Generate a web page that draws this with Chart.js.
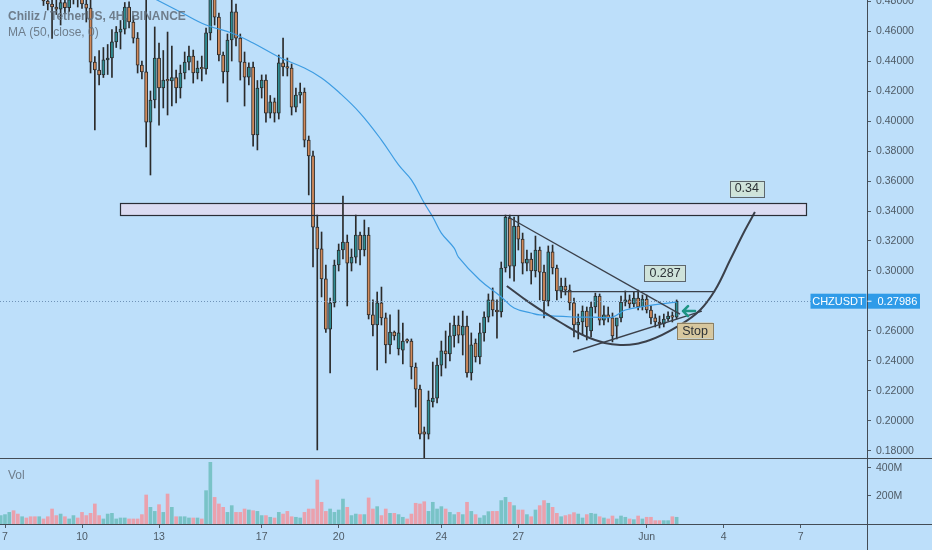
<!DOCTYPE html>
<html>
<head>
<meta charset="utf-8">
<script src="https://cdn.jsdelivr.net/npm/chart.js@4.4.0/dist/chart.umd.min.js"></script>
<style>
html,body{margin:0;padding:0;background:#bddffa;}
#wrap{width:932px;height:550px;}
</style>
</head>
<body>
<div id="wrap"><canvas id="chzChart" width="932" height="550"></canvas></div>
<script>
// 4h candles, index 0 = May 7 00:00 (first one is index -1)
const firstIdx = -1;
const opens = [.492,.498,.503,.507,.501,.496,.499,.494,.490,.487,.489,.480,.478,.476,.4745,.479,.4755,.481,.485,.482,.478,
  .4753,.4393,.434,.4307,.4407,.442,.4527,.4593,.4613,.476,.466,.4553,.4373,.4327,.3993,.414,.442,.422,.4273,.4267,
  .429,.422,.432,.4393,.4433,.432,.4353,.4347,.4587,.488,.4693,.444,.4327,.454,.4727,.4553,.4393,.4293,.436,.3907,
  .422,.4273,.4053,.4127,.4053,.4387,.436,.4353,.4093,.4173,.4193,.3873,.3767,.3293,.3147,.2947,.2613,.2787,.304,.314,
  .3193,.3053,.3093,.324,.314,.324,.2707,.264,.2787,.2687,.2507,.2593,.248,.2473,.254,.2533,.236,.2213,.1927,.1913,
  .2127,.2153,.2373,.2467,.2447,.2567,.264,.2573,.2633,.232,.252,.2427,.2587,.2693,.2807,.274,.2727,.302,.3353,.3033,
  .330,.3213,.3053,.308,.300,.314,.2993,.280,.3127,.302,.2867,.290,.2873,.2787,.264,.266,.2733,.260,.276,.2833,
  .2673,.2707,.2687,.2633,.2687,.2793,.2807,.278,.282,.276,.2813,.274,.2687,.266,.2647,.268,.270,.2693];
const highs = [.503,.507,.512,.510,.504,.503,.501,.497,.493,.493,.492,.486,.483,.481,.485,.484,.486,.489,.489,.486,.481,
  .4807,.443,.447,.449,.451,.461,.463,.467,.479,.4795,.470,.459,.440,.490,.420,.4627,.452,.447,.4593,.450,
  .434,.4373,.446,.450,.4473,.440,.4433,.462,.495,.492,.472,.446,.458,.4807,.478,.458,.446,.4387,.4393,.427,
  .4307,.4307,.417,.4153,.444,.4553,.442,.438,.422,.4253,.422,.390,.380,.3373,.326,.304,.282,.3073,.318,.350,
  .324,.3147,.3373,.326,.334,.329,.2807,.286,.2893,.272,.2707,.260,.274,.2653,.2547,.2547,.2387,.224,.196,.220,
  .2393,.242,.2533,.260,.2653,.270,.270,.2733,.270,.2587,.2547,.2653,.2727,.2847,.2887,.2807,.306,.3373,.3373,.336,
  .3367,.3253,.314,.312,.3233,.316,.304,.3167,.3173,.304,.2953,.2953,.2907,.282,.2713,.2767,.276,.2793,.2853,.2847,
  .2767,.276,.272,.268,.2833,.2867,.284,.286,.2873,.284,.284,.2767,.2713,.270,.2713,.2727,.2727,.2807];
const lows = [.488,.494,.500,.497,.492,.491,.489,.486,.483,.483,.477,.474,.455,.471,.464,.472,.473,.478,.476,.475,.466,
  .432,.394,.424,.429,.431,.429,.449,.448,.458,.462,.452,.432,.428,.3827,.364,.4087,.3973,.4087,.404,.410,
  .412,.4153,.428,.434,.4253,.428,.4267,.4313,.454,.464,.440,.4253,.4127,.440,.450,.4273,.410,.424,.3833,.3807,
  .4153,.3993,.402,.3993,.4013,.430,.430,.404,.406,.412,.3827,.3507,.3027,.1807,.2827,.259,.232,.276,.300,.308,
  .2767,.300,.3053,.304,.310,.268,.2567,.234,.264,.2387,.2447,.254,.244,.238,.252,.228,.2093,.188,.1753,.188,
  .2093,.212,.230,.2353,.240,.2493,.252,.244,.2293,.2273,.2393,.238,.2533,.266,.270,.2553,.2693,.2993,.2953,.2933,
  .314,.298,.300,.2913,.296,.2807,.2687,.2767,.298,.2807,.282,.284,.274,.256,.2547,.2573,.254,.256,.272,.264,
  .264,.266,.2527,.2547,.266,.2767,.2753,.276,.274,.274,.272,.2647,.2627,.262,.2627,.2667,.266,.268];
const closes = [.498,.503,.507,.501,.496,.499,.494,.490,.487,.489,.480,.478,.476,.4745,.479,.4755,.481,.485,.482,.478,.4753,
  .4393,.434,.4307,.4407,.442,.4527,.4593,.4613,.476,.466,.4553,.4373,.4327,.3993,.414,.442,.422,.4273,.4267,.429,
  .422,.432,.4393,.4433,.432,.4353,.4347,.4587,.488,.4693,.444,.4327,.454,.4727,.4553,.4393,.4293,.436,.3907,.422,
  .4273,.4053,.4127,.4053,.4387,.436,.4353,.4093,.4173,.4193,.3873,.3767,.3293,.3147,.2947,.2613,.2787,.304,.314,.3193,
  .3053,.3093,.324,.314,.324,.2707,.264,.2787,.2687,.2507,.2593,.2567,.2587,.2533,.2533,.236,.2213,.1913,.1913,.214,
  .2153,.2373,.2467,.2447,.2567,.264,.2573,.2633,.232,.2507,.2427,.2587,.2693,.2807,.274,.2727,.302,.336,.3033,.330,
  .3213,.3053,.308,.300,.314,.2993,.280,.3127,.302,.2867,.290,.2873,.2787,.264,.266,.2733,.2627,.276,.2833,.2673,
  .2707,.2687,.2567,.2687,.2793,.2807,.278,.282,.276,.2813,.274,.2687,.266,.2647,.268,.270,.2693,.27986];
// volume in millions
const volumes = [60,67,83,95,71,52,43,52,52,52,36,52,107,60,71,52,36,60,43,83,60,
  76,143,60,36,71,76,36,43,43,36,36,36,67,207,119,90,138,83,214,119,
  52,52,52,43,43,43,36,238,440,190,143,119,83,131,83,83,107,100,95,90,
  60,60,48,43,83,71,90,52,48,43,83,107,107,314,155,90,107,83,100,178,
  119,60,71,67,67,186,107,124,60,107,76,76,67,48,36,71,148,143,159,90,
  155,107,124,107,83,67,83,67,155,90,67,43,60,88,90,90,167,190,155,131,
  100,100,67,52,100,131,167,148,119,76,52,60,67,81,71,43,67,76,71,52,
  43,36,57,36,57,48,36,31,57,36,48,48,24,24,24,24,52,48];

// MA (50, close)
const maIdx = [34,36,41,47,53,58,64,70,74,78,83,88,92,95,98,100,102,105,106,111,116,119,123,125,133,137,142,145,150,157];
const maVal = [.483,.480,.4727,.464,.4587,.452,.4427,.4353,.4287,.4193,.4053,.3873,.3707,.3607,.3453,.336,.3253,.3153,
  .3093,.294,.2827,.2753,.272,.2707,.2693,.2693,.2693,.274,.2767,.2793];

const lastPrice = 0.27986;
const dayTicks = [0,18,36,60,78,102,120,150,168,186];
const dayLabels = ['7','10','13','17','20','24','27','Jun','4','7'];
const priceTicks = [0.18,0.20,0.22,0.24,0.26,0.28,0.30,0.32,0.34,0.36,0.38,0.40,0.42,0.44,0.46,0.48];
const volTicks = [200,400];

// drawings on the chart
const zoneSpan = [26.9, 187.2];
const zoneLevels = [0.3373, 0.3453];
const cupIdx = [117.3,122.7,129.7,136.7,143.8,150.8,157.8,162.5,166,169.5,173,175.3];
const cupVal = [.290,.2787,.266,.2553,.2507,.254,.264,.274,.2873,.3073,.3273,.3393];
const fallIdx = [117.6,157.8];
const fallVal = [.336,.2713];
const riseIdx = [132.8,162.9];
const riseVal = [.246,.2733];
const neckIdx = [129.7,166];
const neckVal = [.2862,.2862];
const tagText = ['0.34','0.287','Stop'];
const tagIdx = [173.4,154.3,161.3];
const tagVal = [.355,.2985,.2603];
const arrowAt = [159.9, 0.2733];

const idxs = closes.map((c, k) => firstIdx + k);
const upCol = '#2f8c92', downCol = '#d08a5c';
const isUp = closes.map((c, k) => c >= opens[k]);

const pt = (xs, ys) => xs.map((v, k) => ({x: v, y: ys[k]}));

const drawings = {
  id: 'drawings',
  beforeDatasetsDraw(chart) {
    const {ctx, scales: {x, y}} = chart;
    const x1 = x.getPixelForValue(zoneSpan[0]), x2 = x.getPixelForValue(zoneSpan[1]);
    const y1 = y.getPixelForValue(zoneLevels[1]), y2 = y.getPixelForValue(zoneLevels[0]);
    ctx.save();
    ctx.fillStyle = '#dcdcf2';
    ctx.fillRect(x1, y1, x2 - x1, y2 - y1);
    ctx.restore();
  },
  afterDatasetsDraw(chart) {
    const {ctx, scales: {x, y}, chartArea} = chart;
    ctx.save();
    // zone outline
    const x1 = x.getPixelForValue(zoneSpan[0]), x2 = x.getPixelForValue(zoneSpan[1]);
    const y1 = y.getPixelForValue(zoneLevels[1]), y2 = y.getPixelForValue(zoneLevels[0]);
    ctx.strokeStyle = '#2a2e36'; ctx.lineWidth = 1.2;
    ctx.strokeRect(Math.round(x1) + 0.5, Math.round(y1) + 0.5, Math.round(x2 - x1), Math.round(y2 - y1));

    // last price dotted line
    const yp = Math.round(y.getPixelForValue(lastPrice)) + 0.5;
    ctx.setLineDash([1, 2]); ctx.strokeStyle = '#6f93b8'; ctx.lineWidth = 1;
    ctx.beginPath(); ctx.moveTo(chartArea.left, yp); ctx.lineTo(chartArea.right, yp); ctx.stroke();
    ctx.setLineDash([]);

    // tags
    ctx.font = '12.5px "Liberation Sans"';
    ctx.textBaseline = 'middle'; ctx.textAlign = 'center';
    tagText.forEach((t, k) => {
      const cx = x.getPixelForValue(tagIdx[k]), cy = y.getPixelForValue(tagVal[k]);
      const w = ctx.measureText(t).width + 10, h = 16;
      ctx.fillStyle = t === 'Stop' ? '#d7c79e' : '#cfe3da';
      ctx.fillRect(cx - w / 2, cy - h / 2, w, h);
      ctx.strokeStyle = t === 'Stop' ? '#8c8064' : '#5d666d'; ctx.lineWidth = 1;
      ctx.strokeRect(Math.round(cx - w / 2) + 0.5, Math.round(cy - h / 2) + 0.5, Math.round(w), h);
      ctx.fillStyle = '#2c3136';
      ctx.fillText(t, cx, cy + 0.5);
    });

    // arrow
    const ax = x.getPixelForValue(arrowAt[0]), ay = y.getPixelForValue(arrowAt[1]);
    ctx.strokeStyle = '#1e9585'; ctx.lineWidth = 2.6; ctx.lineCap = 'round'; ctx.lineJoin = 'round';
    ctx.beginPath();
    ctx.moveTo(ax + 6, ay); ctx.lineTo(ax - 6, ay);
    ctx.moveTo(ax - 1, ay - 5); ctx.lineTo(ax - 6, ay); ctx.lineTo(ax - 1, ay + 5);
    ctx.stroke();

    // legend texts
    ctx.textAlign = 'left'; ctx.textBaseline = 'alphabetic';
    ctx.fillStyle = 'rgba(96,108,120,0.85)';
    ctx.font = 'bold 12px "Liberation Sans"';
    ctx.fillText('Chiliz / TetherUS, 4H, BINANCE', 8, 20);
    ctx.font = '12px "Liberation Sans"';
    ctx.fillText('MA (50, close, 0)', 8, 36);
    const v = chart.scales.v;
    ctx.fillText('Vol', 8, v.top + 21);
    ctx.restore();
  },
  afterDraw(chart) {
    const {ctx, scales: {y, v}, chartArea, width, height} = chart;
    ctx.save();
    ctx.strokeStyle = '#434c55'; ctx.lineWidth = 1;
    const sep = Math.round(y.bottom) + 0.5, bot = Math.round(chartArea.bottom) + 0.5;
    const ax = Math.round(chartArea.right) + 0.5;
    ctx.beginPath();
    ctx.moveTo(0, sep); ctx.lineTo(width, sep);
    ctx.moveTo(0, bot); ctx.lineTo(width, bot);
    ctx.moveTo(ax, 0); ctx.lineTo(ax, height);
    ctx.stroke();

    // symbol label and price tag
    const yp = y.getPixelForValue(lastPrice);
    ctx.font = '11px "Liberation Sans"';
    ctx.textBaseline = 'middle';
    ctx.fillStyle = '#2f9be8';
    ctx.fillRect(ax - 57, yp - 7.5, 56, 15);
    ctx.fillRect(ax + 0.5, yp - 7.5, 52, 15);
    ctx.fillStyle = '#ffffff';
    ctx.textAlign = 'center';
    ctx.fillText('CHZUSDT', ax - 29, yp + 0.5);
    ctx.textAlign = 'left';
    ctx.fillText(lastPrice.toFixed(5), ax + 10, yp + 0.5);
    ctx.strokeStyle = '#ffffff';
    ctx.beginPath(); ctx.moveTo(ax, yp); ctx.lineTo(ax + 4, yp); ctx.stroke();
    ctx.restore();
  }
};

const axisColor = '#4e5a65';
const tickFont = {family: '"Liberation Sans"', size: 10.5};

const chart = new Chart(document.getElementById('chzChart'), {
  data: {
    datasets: [
      {
        type: 'line', label: 'cup', data: pt(cupIdx, cupVal), borderColor: '#3b404a', borderWidth: 2,
        pointRadius: 0, tension: 0.4, order: 0, xAxisID: 'x', yAxisID: 'y'
      },
      {
        type: 'line', label: 'fall', data: pt(fallIdx, fallVal), borderColor: '#3b404a', borderWidth: 1.4,
        pointRadius: 0, order: 0, xAxisID: 'x', yAxisID: 'y'
      },
      {
        type: 'line', label: 'rise', data: pt(riseIdx, riseVal), borderColor: '#3b404a', borderWidth: 1.4,
        pointRadius: 0, order: 0, xAxisID: 'x', yAxisID: 'y'
      },
      {
        type: 'line', label: 'neck', data: pt(neckIdx, neckVal), borderColor: '#3b404a', borderWidth: 1.2,
        pointRadius: 0, order: 0, xAxisID: 'x', yAxisID: 'y'
      },
      {
        type: 'line', label: 'MA', data: pt(maIdx, maVal), borderColor: '#3d9ce2', borderWidth: 1.2,
        pointRadius: 0, tension: 0.4, order: 1, xAxisID: 'x', yAxisID: 'y'
      },
      {
        type: 'bar', label: 'body', data: idxs.map((i, k) => ({x: i, y: [opens[k], closes[k]]})),
        backgroundColor: isUp.map(u => u ? upCol : downCol), borderColor: '#2b2b2b', borderWidth: 1,
        borderSkipped: false, barThickness: 3.2, minBarLength: 1.5, grouped: false, order: 2,
        xAxisID: 'x', yAxisID: 'y'
      },
      {
        type: 'bar', label: 'wick', data: idxs.map((i, k) => ({x: i, y: [lows[k], highs[k]]})),
        backgroundColor: '#2b2b2b', borderWidth: 0, barThickness: 1, grouped: false, order: 3,
        xAxisID: 'x', yAxisID: 'y'
      },
      {
        type: 'bar', label: 'Vol', data: idxs.map((i, k) => ({x: i, y: volumes[k]})),
        backgroundColor: isUp.map(u => u ? '#79c3c7' : '#eaa1ad'), borderWidth: 0, barThickness: 3,
        grouped: false, order: 4, xAxisID: 'x', yAxisID: 'v'
      }
    ]
  },
  options: {
    responsive: false,
    animation: false,
    layout: {padding: 0},
    plugins: {legend: {display: false}, tooltip: {enabled: false}},
    scales: {
      x: {
        type: 'linear', position: 'bottom', min: -1.17, max: 201.5, offset: false,
        afterBuildTicks: s => { s.ticks = dayTicks.map(v => ({value: v})); },
        afterFit: s => { s.height = 26; s.paddingLeft = 0; s.paddingRight = 0; },
        ticks: {
          color: axisColor, font: tickFont, padding: 3, maxRotation: 0, autoSkip: false,
          callback: v => dayLabels[dayTicks.indexOf(v)]
        },
        grid: {drawOnChartArea: false, drawTicks: true, tickLength: 4, color: axisColor, offset: false},
        border: {display: true, color: axisColor}
      },
      y: {
        type: 'linear', position: 'right', stack: 'panes', stackWeight: 458,
        min: 0.17533, max: 0.48067,
        afterBuildTicks: s => { s.ticks = priceTicks.map(v => ({value: v})); },
        afterFit: s => { s.width = 65; s.paddingTop = 0; s.paddingBottom = 0; },
        ticks: {color: axisColor, font: tickFont, padding: 5, callback: v => Number(v).toFixed(5)},
        grid: {drawOnChartArea: false, drawTicks: true, tickLength: 4, color: axisColor},
        border: {display: true, color: axisColor}
      },
      v: {
        type: 'linear', position: 'right', stack: 'panes', stackWeight: 66,
        min: 0, max: 471,
        afterBuildTicks: s => { s.ticks = volTicks.map(v => ({value: v})); },
        afterFit: s => { s.width = 65; s.paddingTop = 0; s.paddingBottom = 0; },
        ticks: {color: axisColor, font: tickFont, padding: 5, callback: v => v + 'M'},
        grid: {drawOnChartArea: false, drawTicks: true, tickLength: 4, color: axisColor},
        border: {display: true, color: axisColor}
      }
    }
  },
  plugins: [drawings]
});
</script>
</body>
</html>
